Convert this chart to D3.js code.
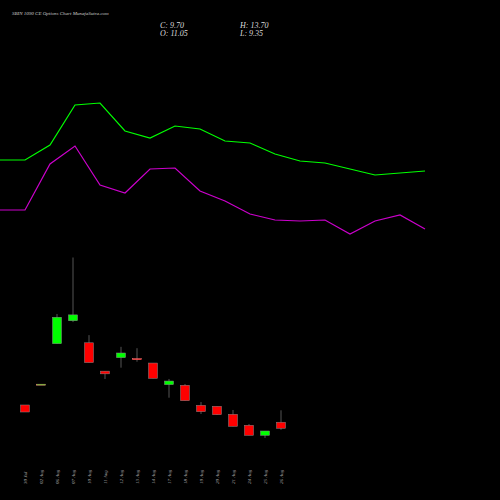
<!DOCTYPE html><html><head><meta charset="utf-8"><script src="https://d3js.org/d3.v7.min.js"></script>
<style>body{margin:0;background:#000}</style></head><body><script>
const dates=["30 Jul","02 Aug","06 Aug","07 Aug","10 Aug","11 Aug","12 Aug","13 Aug","14 Aug","17 Aug","18 Aug","19 Aug","20 Aug","21 Aug","24 Aug","25 Aug","26 Aug"];
const open=[14.88,19.40,28.5,33.6,28.7,22.4,25.4,25.17,24.2,19.4,19.26,14.8,14.59,12.81,10.37,8.14,11.05];
const close=[13.32,19.50,34.37,34.9,24.3,21.8,26.43,25.03,20.8,20.2,15.83,13.39,12.72,10.14,8.14,9.1,9.70];
const high=[14.88,19.50,35.1,47.65,30.4,22.4,27.8,27.5,24.2,20.66,19.54,15.54,14.59,13.77,10.66,9.1,13.70];
const low=[13.32,19.40,28.5,33.3,24.3,20.66,23.17,24.5,20.8,16.5,15.83,12.88,12.66,10.14,8.14,7.55,9.35];
const upper=[90,90,105,145,147,119,112,124,121,109,107,96,89,87,81,75,77,79];
const lower=[40,40,86,104,65,57,81,82,59,49,36,30,29,30,16,29,35,21];
const svg=d3.select("body").append("svg").attr("width",500).attr("height",500).style("background","#000");
const x=d3.scaleLinear().domain([0,dates.length-1]).range([25,281]);
const y=d3.scaleLinear().domain([9.7,47.65]).range([428.3,257.5]);
const lx=d3.scaleLinear().domain([0,upper.length-1]).range([0,425]);
const ly=d3.scaleLinear().domain([0,250]).range([250,0]);
const line=d3.line().x((d,i)=>lx(i)).y(d=>ly(d));
svg.append("path").attr("d",line(upper)).attr("fill","none").attr("stroke","#00ff00").attr("stroke-width",1.2);
svg.append("path").attr("d",line(lower)).attr("fill","none").attr("stroke","#cc00cc").attr("stroke-width",1.2);
const g=svg.append("g");
dates.forEach((d,i)=>{
  const up=close[i]>=open[i], col=up?"#00ff00":"#ff0000";
  g.append("line").attr("x1",x(i)).attr("x2",x(i)).attr("y1",y(high[i])).attr("y2",y(low[i])).attr("stroke","#555").attr("stroke-width",1);
  const t=y(Math.max(open[i],close[i])), b=y(Math.min(open[i],close[i]));
  g.append("rect").attr("x",x(i)-4.5).attr("width",9).attr("y",t).attr("height",Math.max(1,b-t)).attr("fill",col).attr("stroke",Math.abs(b-t)<2?"#ff8080":"#888").attr("stroke-width",0.5);
  svg.append("text").attr("transform",`translate(${x(i)+2},484) rotate(-90)`).attr("fill","#aaa").attr("font-size",5).attr("font-family","Liberation Serif").attr("font-style","italic").text(d);
});
svg.append("text").attr("x",12).attr("y",15).attr("fill","#ccc").attr("font-size",5).attr("font-family","Liberation Serif").attr("font-style","italic").text("SBIN  1090  CE Options  Chart MunafaSutra.com");
const info=[["C: 9.70",160,28],["O: 11.05",160,36],["H: 13.70",240,28],["L: 9.35",240,36]];
info.forEach(a=>svg.append("text").attr("x",a[1]).attr("y",a[2]).attr("fill","#ddd").attr("font-size",8).attr("font-family","Liberation Serif").attr("font-style","italic").text(a[0]));
</script></body></html>
